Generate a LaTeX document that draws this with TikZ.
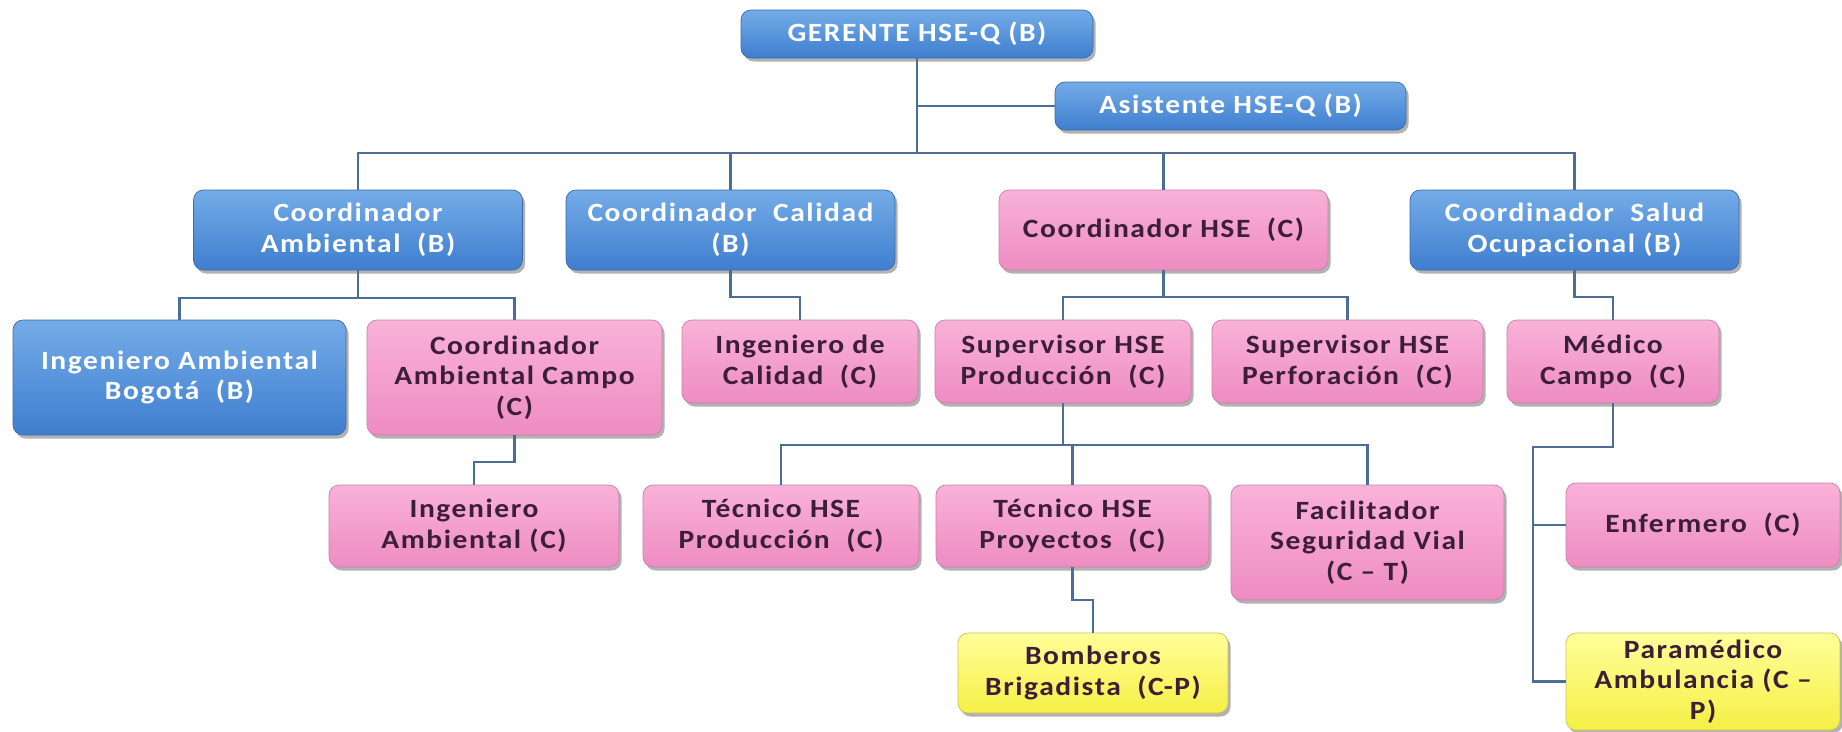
\documentclass[tikz,border=0pt]{standalone}
\usepackage{fontspec}
\setmainfont{Carlito}[FakeStretch=1.12, LetterSpace=6]
\usetikzlibrary{shadows}

\definecolor{azulA}{HTML}{74ACE8}
\definecolor{azulB}{HTML}{3F7ECF}
\definecolor{azulBorde}{HTML}{3A6BA8}
\definecolor{rosaA}{HTML}{F9B2D8}
\definecolor{rosaB}{HTML}{EE8CC2}
\definecolor{rosaBorde}{HTML}{C97FA9}
\definecolor{amaA}{HTML}{FFFF9A}
\definecolor{amaB}{HTML}{F5EF45}
\definecolor{amaBorde}{HTML}{C9C45C}
\definecolor{textoRosa}{HTML}{3C1E36}
\definecolor{lineaCol}{HTML}{4C6E96}

\tikzset{
    caja/.style={rounded corners=0.2cm, inner sep=0pt, align=center,
        font=\fontsize{15}{17.5}\selectfont\bfseries,
        drop shadow={shadow xshift=1.5pt, shadow yshift=-2pt, fill=black, opacity=0.3}},
    azul/.style={caja, top color=azulA, bottom color=azulB, draw=azulBorde, text=white},
    rosa/.style={caja, top color=rosaA, bottom color=rosaB, draw=rosaBorde, text=textoRosa},
    amarillo/.style={caja, top color=amaA, bottom color=amaB, draw=amaBorde, text=textoRosa},
    linea/.style={draw=lineaCol, line width=1.2pt}
}

\begin{document}
\begin{tikzpicture}[x=0.02cm, y=-0.02cm]
    \useasboundingbox (0,0) rectangle (1842,731);

    % Gerencia
    \node[azul, minimum width=7.04cm, minimum height=0.96cm] (ger) at (917,34) {GERENTE HSE-Q (B)};
    \node[azul, minimum width=7.02cm, minimum height=0.96cm] (asis) at (1230.5,106) {Asistente HSE-Q (B)};

    % Coordinadores
    \node[azul, minimum width=6.58cm, minimum height=1.6cm] (camb) at (358,230) {Coordinador\\Ambiental\ \ (B)};
    \node[azul, minimum width=6.58cm, minimum height=1.6cm] (ccal) at (730.5,230) {Coordinador\ \ Calidad\\(B)};
    \node[rosa, minimum width=6.58cm, minimum height=1.6cm] (chse) at (1163.5,230) {Coordinador HSE\ \ (C)};
    \node[azul, minimum width=6.58cm, minimum height=1.6cm] (csal) at (1574.5,230) {Coordinador\ \ Salud\\Ocupacional (B)};

    % Segundo nivel
    \node[azul, minimum width=6.66cm, minimum height=2.3cm] (iab) at (179.5,377.5) {Ingeniero Ambiental\\Bogotá\ \ (B)};
    \node[rosa, minimum width=5.9cm, minimum height=2.3cm] (cac) at (514.5,377.5) {Coordinador\\Ambiental Campo\\(C)};
    \node[rosa, minimum width=4.72cm, minimum height=1.66cm] (ical) at (800,361.5) {Ingeniero de\\Calidad\ \ (C)};
    \node[rosa, minimum width=5.12cm, minimum height=1.66cm] (sprod) at (1063,361.5) {Supervisor HSE\\Producción\ \ (C)};
    \node[rosa, minimum width=5.42cm, minimum height=1.66cm] (sperf) at (1347.5,361.5) {Supervisor HSE\\Perforación\ \ (C)};
    \node[rosa, minimum width=4.24cm, minimum height=1.66cm] (med) at (1613,361.5) {Médico\\Campo\ \ (C)};

    % Tercer nivel
    \node[rosa, minimum width=5.8cm, minimum height=1.64cm] (iamb) at (474,526) {Ingeniero\\Ambiental (C)};
    \node[rosa, minimum width=5.52cm, minimum height=1.64cm] (tprod) at (781,526) {Técnico HSE\\Producción\ \ (C)};
    \node[rosa, minimum width=5.46cm, minimum height=1.64cm] (tproy) at (1072.5,526) {Técnico HSE\\Proyectos\ \ (C)};
    \node[rosa, minimum width=5.46cm, minimum height=2.3cm] (fac) at (1367.5,542.5) {Facilitador\\Seguridad Vial\\(C – T)};
    \node[rosa, minimum width=5.48cm, minimum height=1.68cm] (enf) at (1703,525) {Enfermero\ \ (C)};

    % Cuarto nivel
    \node[amarillo, minimum width=5.4cm, minimum height=1.6cm] (bomb) at (1093,673) {Bomberos\\Brigadista\ \ (C-P)};
    \node[amarillo, minimum width=5.48cm, minimum height=1.94cm] (para) at (1703,681.5) {Paramédico\\Ambulancia (C –\\P)};

    % Conectores
    \coordinate (b1) at (917,153);
    \draw[linea] (ger.south) -- (b1);
    \draw[linea] (ger.south |- asis.west) -- (asis.west);
    \draw[linea] (camb.north) |- (b1) -| (csal.north);
    \draw[linea] (ccal.north) -- (ccal.north |- b1);
    \draw[linea] (chse.north) -- (chse.north |- b1);

    \coordinate (b2) at (358,298);
    \draw[linea] (camb.south) -- (b2);
    \draw[linea] (iab.north) |- (b2) -| (cac.north);
    \draw[linea] (ccal.south) -- ++(0,27) -| (ical.north);
    \coordinate (b3) at (1163.5,297);
    \draw[linea] (chse.south) -- (b3);
    \draw[linea] (sprod.north) |- (b3) -| (sperf.north);
    \draw[linea] (csal.south) -- ++(0,27) -| (med.north);

    \draw[linea] (cac.south) -- ++(0,27) -| (iamb.north);
    \coordinate (b4) at (1063,445);
    \draw[linea] (sprod.south) -- (b4);
    \draw[linea] (tprod.north) |- (b4) -| (fac.north);
    \draw[linea] (tproy.north) -- (tproy.north |- b4);
    \draw[linea] (tproy.south) -- ++(0,33) -| (bomb.north);

    \coordinate (m1) at (1533,447);
    \draw[linea] (med.south) |- (m1) -- (m1 |- para.west) -- (para.west);
    \draw[linea] (m1 |- enf.west) -- (enf.west);
\end{tikzpicture}
\end{document}
